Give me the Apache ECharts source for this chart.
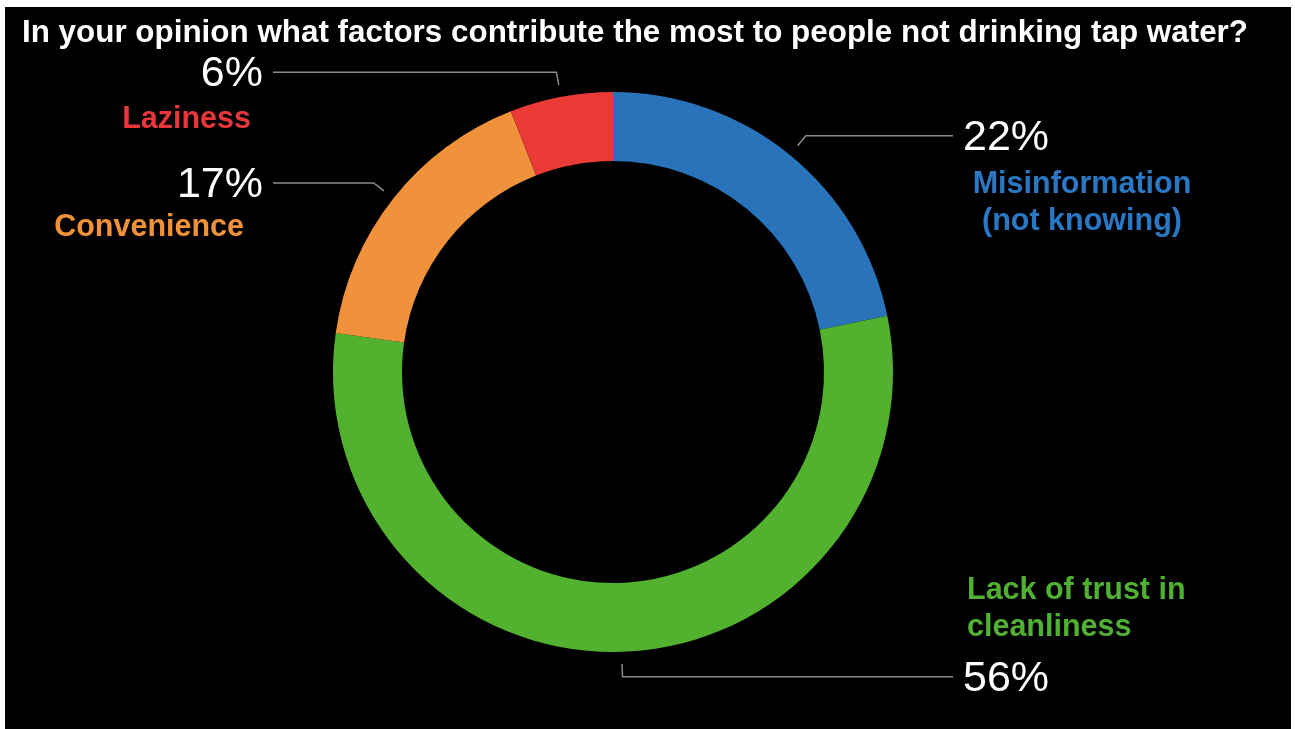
<!DOCTYPE html>
<html>
<head>
<meta charset="utf-8">
<script src="https://cdn.jsdelivr.net/npm/echarts@6/dist/echarts.min.js"></script>
<style>
html,body{margin:0;padding:0;background:#fff;width:1295px;height:729px;overflow:hidden;}
#chart{position:absolute;left:5px;top:7px;width:1286px;height:722px;}
</style>
</head>
<body>
<div id="chart"></div>
<script>
// ---- data ----
const titleText = 'In your opinion what factors contribute the most to people not drinking tap water?';
const categories = ['Misinformation\n(not knowing)', 'Lack of trust in\ncleanliness', 'Convenience', 'Laziness'];
const values = [22, 56, 17, 6];

// ---- styles ----
const sliceColors = ['#2873BA', '#52B12F', '#F0913C', '#E93A36'];
const nameColors = ['#2A78C4', '#50B032', '#F29238', '#E8363A'];

const chart = echarts.init(document.getElementById('chart'));
const CX = 608, CY = 365, R_OUT = 280, R_IN = 211;

// name label placement relative to pie centre
const nameLayout = [
  {dx: 469, dy: -169, align: 'center'},
  {dx: 354, dy: 237, align: 'left'},
  {dx: -369, dy: -144, align: 'right'},
  {dx: -362, dy: -252, align: 'right'}
];

function dirOf(p) {
  const dx = p[0] - CX, dy = p[1] - CY;
  const l = Math.sqrt(dx * dx + dy * dy) || 1;
  return [dx / l, dy / l];
}

const pieData = categories.map((c, i) => ({
  name: c, value: values[i], itemStyle: {color: sliceColors[i]}
}));
const nameData = categories.map((c, i) => ({
  name: c, value: values[i],
  itemStyle: {color: 'rgba(0,0,0,0)'},
  label: {color: nameColors[i]}
}));

chart.setOption({
  backgroundColor: '#000',
  animation: false,
  title: {
    text: titleText,
    left: 12, top: 6,
    textStyle: {color: '#fff', fontSize: 31.4, fontWeight: 'bold', fontFamily: 'Liberation Sans, Arial, sans-serif'}
  },
  series: [
    {
      type: 'pie',
      center: [CX, CY],
      radius: [R_IN, R_OUT],
      startAngle: 90,
      clockwise: true,
      silent: true,
      data: pieData,
      label: {
        show: true,
        formatter: '{c}%',
        color: '#fff',
        fontSize: 43,
        fontWeight: 'normal',
        fontFamily: 'Liberation Sans, Arial, sans-serif'
      },
      labelLine: {show: true, lineStyle: {color: '#8a8a8a', width: 1.5}},
      labelLayout: function (params) {
        const p = params.labelLinePoints ? params.labelLinePoints[0] : [CX, CY - R_OUT];
        const u = dirOf(p);
        const right = u[0] > -0.01;
        const p0 = [CX + (R_OUT + 12) * u[0], CY + (R_OUT + 12) * u[1]];
        const p1 = [CX + (R_OUT + 25) * u[0], CY + (R_OUT + 25) * u[1]];
        const p2 = [CX + (right ? 340 : -340), p1[1]];
        return {
          x: CX + (right ? 350 : -350),
          y: p1[1] + 2,
          align: right ? 'left' : 'right',
          verticalAlign: 'middle',
          labelLinePoints: [p0, p1, p2]
        };
      }
    },
    {
      type: 'pie',
      center: [CX, CY],
      radius: [R_IN, R_OUT],
      startAngle: 90,
      clockwise: true,
      silent: true,
      z: 1,
      data: nameData,
      label: {
        show: true,
        formatter: '{b}',
        fontSize: 30.5,
        lineHeight: 37,
        fontWeight: 'bold',
        fontFamily: 'Liberation Sans, Arial, sans-serif'
      },
      labelLine: {show: false},
      labelLayout: function (params) {
        const L = nameLayout[params.dataIndex];
        return {
          x: CX + L.dx,
          y: CY + L.dy,
          align: L.align,
          verticalAlign: 'middle'
        };
      }
    }
  ]
});
</script>
</body>
</html>
